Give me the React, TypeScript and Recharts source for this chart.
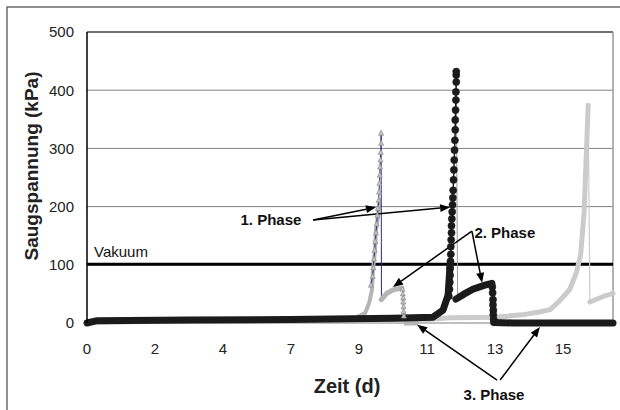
import React from "react"
import {
  CartesianGrid,
  Line,
  LineChart,
  ReferenceDot,
  ReferenceLine,
  XAxis,
  YAxis,
} from "recharts"

// x is the position on the category axis (one tick label every 2 steps)
const xTickPos = [0, 2, 4, 6, 8, 10, 12, 14]
const xTickLabels = ["0", "2", "4", "7", "9", "11", "13", "15"]
const yTicks = [0, 100, 200, 300, 400, 500]
const xMax = 15.47
const vakuum = 101

// dark series (circles)
const blackBase = [[0, 0], [0.3, 4], [3, 5], [6, 6], [9, 8], [10.18, 10], [10.47, 22], [10.62, 48], [10.68, 100]]
const blackSpike = [
  [10.64, 46], [10.66, 58], [10.67, 70], [10.68, 82], [10.68, 94], [10.69, 106], [10.7, 118], [10.7, 131],
  [10.71, 143], [10.72, 155], [10.72, 167], [10.73, 179], [10.74, 191], [10.75, 203], [10.76, 215],
  [10.77, 228], [10.78, 246], [10.79, 263], [10.8, 280], [10.81, 297], [10.82, 314], [10.83, 332],
  [10.83, 349], [10.84, 366], [10.85, 383], [10.85, 397], [10.86, 414], [10.86, 426], [10.86, 432],
]
const blackDrop = [[10.86, 432], [10.9, 40]]
const blackPhase2 = [[10.85, 41], [11.1, 50], [11.35, 58], [11.7, 65], [11.91, 68]]
const blackDrop2 = [[11.92, 62], [11.93, 52], [11.94, 40], [11.94, 31], [11.95, 22], [11.95, 14], [11.96, 6]]
const blackTail = [[11.96, 1], [12.5, 0], [xMax, 0]]

// grey series (triangles)
const grey1Base = [[0, 1], [4, 3], [7.6, 5], [7.9, 9], [8.18, 17], [8.3, 35], [8.38, 57], [8.41, 91], [8.47, 125], [8.5, 160], [8.56, 185], [8.6, 211]]
const grey1Spike = [
  [8.35, 65], [8.4, 80], [8.42, 95], [8.44, 110], [8.46, 125], [8.48, 140], [8.5, 155], [8.52, 170],
  [8.54, 185], [8.56, 197], [8.58, 211], [8.59, 225], [8.6, 240], [8.61, 254], [8.62, 268], [8.63, 280],
  [8.64, 293], [8.65, 309], [8.65, 326],
]
const grey1Drop = [[8.65, 326], [8.66, 45]]
const grey1Phase2 = [[8.65, 40], [8.82, 51], [9.0, 57], [9.26, 60]]
const grey1Drop2 = [[9.28, 58], [9.29, 50], [9.3, 43], [9.3, 36], [9.31, 28], [9.31, 20], [9.32, 12]]
const grey1Tail = [[9.32, 0], [9.74, 0]]

// light grey series
const grey2Base = [[0, 2], [5, 3], [10, 6], [10.68, 9], [12.0, 10], [12.8, 14], [13.3, 19], [13.62, 23], [13.9, 38], [14.2, 58], [14.4, 88], [14.52, 118], [14.62, 190], [14.74, 374]]
const grey2Drop = [[14.74, 374], [14.79, 38]]
const grey2Tail = [[14.79, 36], [14.95, 40], [15.2, 46], [xMax, 51]]

// annotations
const notes = [
  { text: "1. Phase", x: 5.41, y: 177 },
  { text: "2. Phase", x: 12.29, y: 155 },
  { text: "3. Phase", x: 11.97, y: -124 },
]
const arrows = [
  [[6.65, 177], [8.5, 199]],
  [[6.65, 177], [10.68, 199]],
  [[11.32, 158], [9.0, 62]],
  [[11.32, 158], [11.62, 69]],
  [[12.06, -98], [9.71, -3]],
  [[12.15, -98], [13.32, -7]],
]

const pts = (a: number[][]) => a.map(([t, v]) => ({ t, v }))

const font = "'Liberation Sans', Arial, sans-serif"
const BLACK = "#1b1b1b"
const GREY1 = "#b4b4b4"
const GREY2 = "#cbcbcb"
const NAVY = "#2a2a80"

const Arrow = (p: any) => {
  const { x1, y1, x2, y2 } = p
  const ang = Math.atan2(y2 - y1, x2 - x1)
  const L = 10
  const W = 4
  const bx = x2 - L * Math.cos(ang)
  const by = y2 - L * Math.sin(ang)
  const nx = -Math.sin(ang) * W
  const ny = Math.cos(ang) * W
  return (
    <g>
      <line x1={x1} y1={y1} x2={bx} y2={by} stroke="#000" strokeWidth={1.5} />
      <polygon points={`${x2},${y2} ${bx + nx},${by + ny} ${bx - nx},${by - ny}`} fill="#000" />
    </g>
  )
}

const Tri = (p: any) => {
  const { cx, cy, index } = p
  if (cx == null || cy == null) return <g key={index} />
  return (
    <path
      key={index}
      d={`M${cx},${cy - 3} L${cx + 2.5},${cy + 2} L${cx - 2.5},${cy + 2} Z`}
      fill="#c4c4c4"
      stroke="#8a8a8a"
      strokeWidth={0.7}
    />
  )
}

export default function App() {
  return (
    <div style={{ position: "relative", width: 620, height: 410, overflow: "hidden", background: "#fff", fontFamily: font }}>
      <style>{"html,body{margin:0;padding:0;background:#fff} .recharts-surface,.recharts-wrapper{outline:none}"}</style>
      <div style={{ position: "absolute", left: 0, top: 0 }}>
        <LineChart
          width={620}
          height={410}
          margin={{ top: 32, right: 7, bottom: 57, left: 0 }}
          accessibilityLayer={false}
        >
          <CartesianGrid horizontal vertical={false} stroke="#808080" />
          <XAxis
            type="number"
            dataKey="t"
            domain={[0, xMax]}
            ticks={xTickPos}
            tickFormatter={(v: number) => xTickLabels[xTickPos.indexOf(v)] ?? ""}
            axisLine={false}
            tickLine={false}
            tickSize={6}
            tickMargin={14}
            height={30}
            tick={{ fontSize: 15, fill: "#222", fontFamily: font }}
          />
          <YAxis
            type="number"
            domain={[0, 500]}
            ticks={yTicks}
            width={87}
            axisLine={{ stroke: "#000", strokeWidth: 1.5 }}
            tickLine={false}
            tickSize={6}
            tickMargin={7}
            tick={{ fontSize: 15, fill: "#222", fontFamily: font }}
          />
          <ReferenceLine y={500} stroke="#222" />
          <ReferenceLine x={xMax} stroke="#9a9a9a" strokeWidth={1.5} />
          <ReferenceLine
            y={vakuum}
            stroke="#000"
            strokeWidth={3}
            label={{ value: "Vakuum", position: "insideBottomLeft", offset: 7, fontSize: 15, fill: "#111", fontFamily: font }}
          />

          {/* light grey */}
          <Line data={pts(grey2Base)} dataKey="v" stroke={GREY2} strokeWidth={5} strokeLinecap="round" strokeLinejoin="round" dot={false} isAnimationActive={false} />
          <Line data={pts(grey2Drop)} dataKey="v" stroke={GREY2} strokeWidth={1.2} dot={false} isAnimationActive={false} />
          <Line data={pts(grey2Tail)} dataKey="v" stroke={GREY2} strokeWidth={5} strokeLinecap="round" dot={false} isAnimationActive={false} />

          {/* grey with triangles */}
          <Line data={pts(grey1Base)} dataKey="v" stroke={GREY1} strokeWidth={4} strokeLinecap="round" strokeLinejoin="round" dot={false} isAnimationActive={false} />
          <Line data={pts(grey1Tail)} dataKey="v" stroke={GREY1} strokeWidth={5} dot={false} isAnimationActive={false} />
          <Line data={pts(grey1Spike)} dataKey="v" stroke={NAVY} strokeWidth={1} dot={Tri} isAnimationActive={false} />
          <Line data={pts(grey1Drop)} dataKey="v" stroke={NAVY} strokeWidth={1} dot={false} isAnimationActive={false} />
          <Line data={pts(grey1Phase2)} dataKey="v" stroke={GREY1} strokeWidth={5} strokeLinecap="round" dot={false} isAnimationActive={false} />
          <Line data={pts(grey1Drop2)} dataKey="v" stroke={NAVY} strokeWidth={1} dot={Tri} isAnimationActive={false} />

          {/* dark circles */}
          <Line data={pts(blackBase)} dataKey="v" stroke={BLACK} strokeWidth={7} strokeLinecap="round" strokeLinejoin="round" dot={false} isAnimationActive={false} />
          <Line data={pts(blackDrop)} dataKey="v" stroke="#9a9a9a" strokeWidth={1} dot={false} isAnimationActive={false} />
          <Line data={pts(blackSpike)} dataKey="v" stroke={BLACK} strokeWidth={1.5} dot={{ r: 3.6, fill: BLACK, stroke: BLACK, strokeWidth: 0.5 }} isAnimationActive={false} />
          <Line data={pts(blackPhase2)} dataKey="v" stroke={BLACK} strokeWidth={7} strokeLinecap="round" dot={false} isAnimationActive={false} />
          <Line data={pts(blackDrop2)} dataKey="v" stroke={BLACK} strokeWidth={1.5} dot={{ r: 3.6, fill: BLACK, stroke: BLACK, strokeWidth: 0.5 }} isAnimationActive={false} />
          <Line data={pts(blackTail)} dataKey="v" stroke={BLACK} strokeWidth={7} strokeLinecap="round" dot={false} isAnimationActive={false} />

          {arrows.map(([a, b], i) => (
            <ReferenceLine
              key={"ar" + i}
              segment={[{ x: a[0], y: a[1] }, { x: b[0], y: b[1] }]}
              ifOverflow="visible"
              shape={Arrow}
            />
          ))}
          {notes.map((n) => (
            <ReferenceDot
              key={n.text}
              x={n.x}
              y={n.y}
              r={0}
              fill="none"
              stroke="none"
              ifOverflow="visible"
              label={{ value: n.text, position: "center", fontSize: 15, fontWeight: "bold", fill: "#111", fontFamily: font }}
            />
          ))}
        </LineChart>
      </div>
      <svg width={620} height={410} style={{ position: "absolute", left: 0, top: 0, pointerEvents: "none", zIndex: 5 }}>
        <path d="M7,440 V7 H650" fill="none" stroke="#6a6a6a" strokeWidth={1.5} />
        <text
          x={31}
          y={166}
          transform="rotate(-90 31 166)"
          textAnchor="middle"
          dominantBaseline="central"
          fontSize={19}
          fontWeight="bold"
          fill="#222"
          fontFamily={font}
        >
          Saugspannung (kPa)
        </text>
        <text x={347} y={386} textAnchor="middle" dominantBaseline="central" fontSize={20} fontWeight="bold" fill="#222" fontFamily={font}>
          Zeit (d)
        </text>
      </svg>
    </div>
  )
}
